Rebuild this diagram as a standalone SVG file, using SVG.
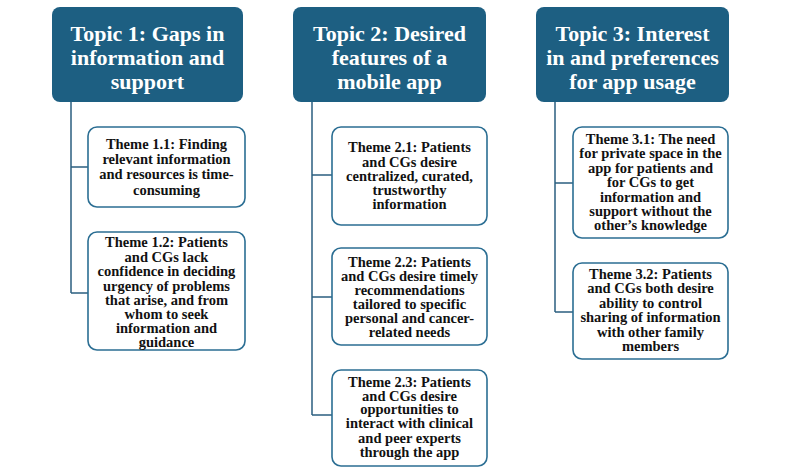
<svg xmlns="http://www.w3.org/2000/svg" width="800" height="471" viewBox="0 0 800 471">
<style>
.topic rect{fill:#1d5f82;stroke:none}
.topic text{font-family:"Liberation Serif",serif;font-weight:bold;font-size:22px;fill:#ffffff;text-anchor:middle}
.theme rect{fill:#ffffff;stroke:#2b6e93;stroke-width:1.6}
.theme text{font-family:"Liberation Serif",serif;font-weight:bold;font-size:14.5px;fill:#111111;text-anchor:middle}
.conn path{fill:none;stroke:#2b5f80;stroke-width:1.5}
</style>
<rect width="800" height="471" fill="#ffffff"/>
<g class="conn" id="connectors">
<path d="M71,102 V293 M71,167 H88 M71,293 H88"/>
<path d="M312,102 V415 M312,175 H332 M312,297 H332 M312,415 H332"/>
<path d="M555,102 V312 M555,183 H573 M555,312 H573"/>
</g>
<g class="topic" id="topic1">
<rect x="52" y="7" width="191" height="95" rx="8"/>
<text x="147.5" y="41">Topic 1: Gaps in</text>
<text x="147.5" y="65">information and</text>
<text x="147.5" y="89">support</text>
</g>
<g class="topic" id="topic2">
<rect x="293" y="7" width="193" height="95" rx="8"/>
<text x="389.5" y="41">Topic 2: Desired</text>
<text x="389.5" y="65">features of a</text>
<text x="389.5" y="89">mobile app</text>
</g>
<g class="topic" id="topic3">
<rect x="536" y="7" width="193" height="95" rx="8"/>
<text x="632.5" y="41">Topic 3: Interest</text>
<text x="632.5" y="65">in and preferences</text>
<text x="632.5" y="89">for app usage</text>
</g>
<g class="theme" id="theme1_1">
<rect x="88" y="127" width="157" height="80" rx="9"/>
<text x="166.5" y="149">Theme 1.1: Finding</text>
<text x="166.5" y="164">relevant information</text>
<text x="166.5" y="179">and resources is time-</text>
<text x="166.5" y="195">consuming</text>
</g>
<g class="theme" id="theme1_2">
<rect x="88" y="232" width="157" height="118" rx="9"/>
<text x="166.5" y="247">Theme 1.2: Patients</text>
<text x="166.5" y="261.5">and CGs lack</text>
<text x="166.5" y="276">confidence in deciding</text>
<text x="166.5" y="290.5">urgency of problems</text>
<text x="166.5" y="305">that arise, and from</text>
<text x="166.5" y="319">whom to seek</text>
<text x="166.5" y="333">information and</text>
<text x="166.5" y="347">guidance</text>
</g>
<g class="theme" id="theme2_1">
<rect x="332" y="127" width="155" height="98" rx="9"/>
<text x="409.5" y="152">Theme 2.1: Patients</text>
<text x="409.5" y="166.5">and CGs desire</text>
<text x="409.5" y="181">centralized, curated,</text>
<text x="409.5" y="195">trustworthy</text>
<text x="409.5" y="209">information</text>
</g>
<g class="theme" id="theme2_2">
<rect x="332" y="248" width="155" height="97" rx="9"/>
<text x="409.5" y="267">Theme 2.2: Patients</text>
<text x="409.5" y="281">and CGs desire timely</text>
<text x="409.5" y="295">recommendations</text>
<text x="409.5" y="309">tailored to specific</text>
<text x="409.5" y="323">personal and cancer-</text>
<text x="409.5" y="337">related needs</text>
</g>
<g class="theme" id="theme2_3">
<rect x="332" y="370" width="155" height="96" rx="9"/>
<text x="409.5" y="387">Theme 2.3: Patients</text>
<text x="409.5" y="400.5">and CGs desire</text>
<text x="409.5" y="414">opportunities to</text>
<text x="409.5" y="428">interact with clinical</text>
<text x="409.5" y="443">and peer experts</text>
<text x="409.5" y="457">through the app</text>
</g>
<g class="theme" id="theme3_1">
<rect x="573" y="127" width="155" height="111" rx="9"/>
<text x="650.5" y="144">Theme 3.1: The need</text>
<text x="650.5" y="158">for private space in the</text>
<text x="650.5" y="172.5">app for patients and</text>
<text x="650.5" y="187">for CGs to get</text>
<text x="650.5" y="202">information and</text>
<text x="650.5" y="216">support without the</text>
<text x="650.5" y="230">other’s knowledge</text>
</g>
<g class="theme" id="theme3_2">
<rect x="573" y="263" width="155" height="96" rx="9"/>
<text x="650.5" y="279">Theme 3.2: Patients</text>
<text x="650.5" y="293">and CGs both desire</text>
<text x="650.5" y="308">ability to control</text>
<text x="650.5" y="322">sharing of information</text>
<text x="650.5" y="337">with other family</text>
<text x="650.5" y="351">members</text>
</g>
</svg>
